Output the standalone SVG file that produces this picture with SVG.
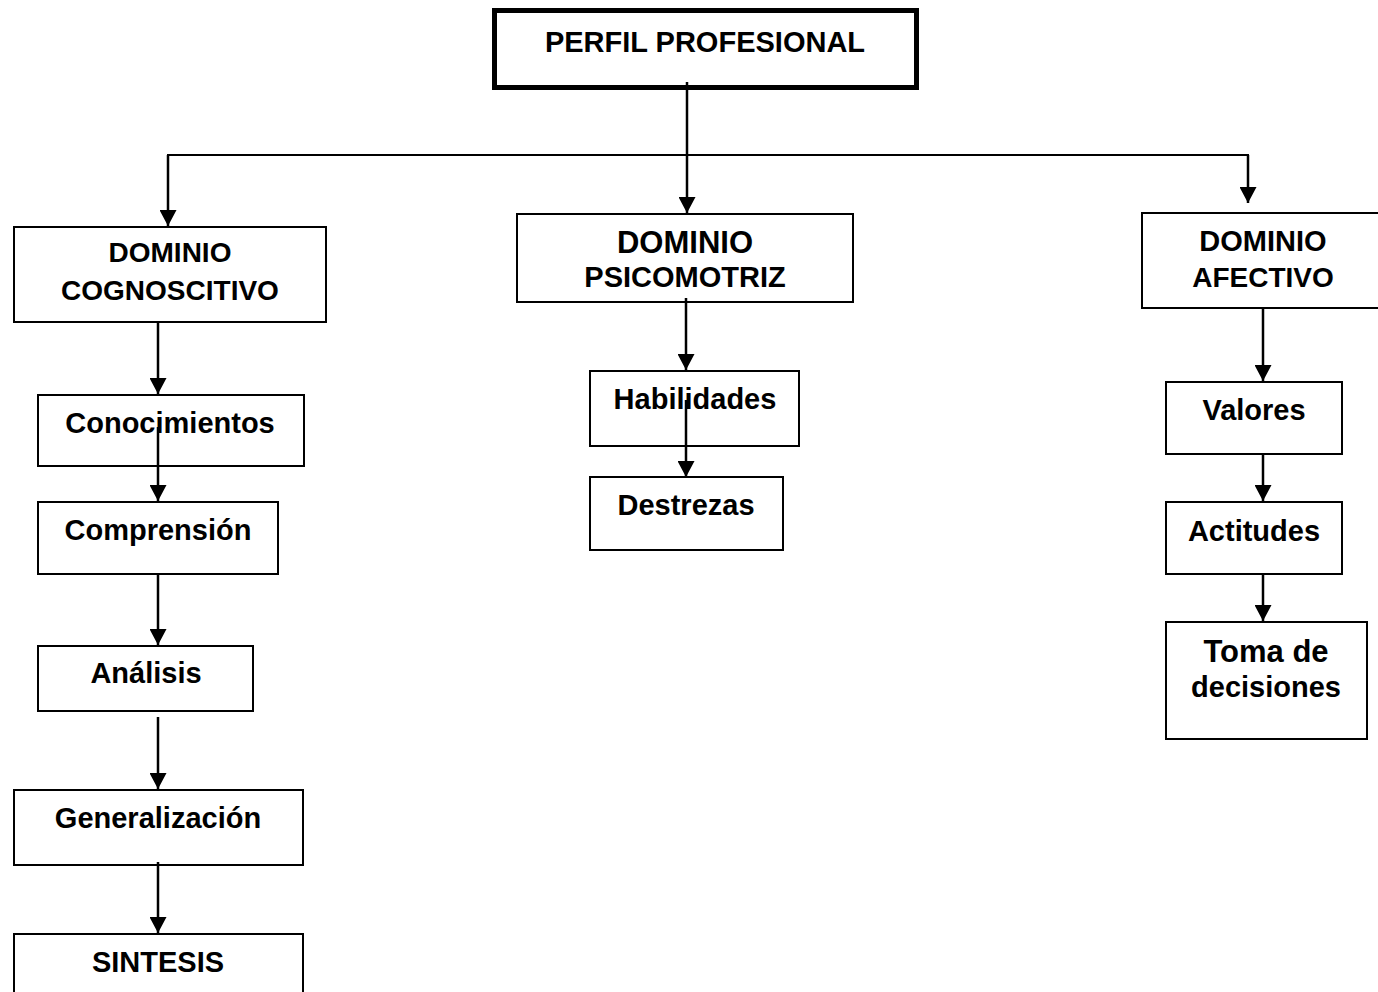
<svg xmlns="http://www.w3.org/2000/svg" width="1378" height="992" viewBox="0 0 1378 992">
<style>
.box{fill:#fff;stroke:#000;stroke-width:2}
.main{fill:#fff;stroke:#000;stroke-width:5}
text{font-family:"Liberation Sans",Arial,sans-serif;font-weight:bold;fill:#000;text-anchor:middle}
.c{fill:none;stroke:#000;stroke-width:2.5}
.h{fill:none;stroke:#000;stroke-width:2}
.a{marker-end:url(#arr)}
</style>
<defs>
<marker id="arr" markerUnits="userSpaceOnUse" markerWidth="16" markerHeight="17" refX="16" refY="8.5" orient="auto"><path d="M0,0 L16,8.5 L0,17 z" fill="#000"/></marker>
</defs>
<g id="n-perfil"><rect class="main" x="494.5" y="10.5" width="422" height="77"/><text x="705" y="52" font-size="29">PERFIL PROFESIONAL</text></g>
<g id="n-cog"><rect class="box" x="14" y="227" width="312" height="95"/><text x="170" y="262" font-size="28">DOMINIO</text><text x="170" y="300" font-size="28">COGNOSCITIVO</text></g>
<g id="n-conoc"><rect class="box" x="38" y="395" width="266" height="71"/><text x="170" y="433" font-size="29">Conocimientos</text></g>
<g id="n-compr"><rect class="box" x="38" y="502" width="240" height="72"/><text x="158" y="540" font-size="29">Comprensión</text></g>
<g id="n-anal"><rect class="box" x="38" y="646" width="215" height="65"/><text x="146" y="683" font-size="29">Análisis</text></g>
<g id="n-gen"><rect class="box" x="14" y="790" width="289" height="75"/><text x="158" y="828" font-size="29">Generalización</text></g>
<g id="n-sint"><rect class="box" x="14" y="934" width="289" height="70"/><text x="158" y="972" font-size="29">SINTESIS</text></g>
<g id="n-psico"><rect class="box" x="517" y="214" width="336" height="88"/><text x="685" y="253" font-size="31">DOMINIO</text><text x="685" y="287" font-size="29">PSICOMOTRIZ</text></g>
<g id="n-habil"><rect class="box" x="590" y="371" width="209" height="75"/><text x="695" y="409" font-size="29">Habilidades</text></g>
<g id="n-destr"><rect class="box" x="590" y="477" width="193" height="73"/><text x="686" y="515" font-size="29">Destrezas</text></g>
<g id="n-afect"><rect class="box" x="1142" y="213" width="245" height="95"/><text x="1263" y="251" font-size="29">DOMINIO</text><text x="1263" y="287" font-size="28">AFECTIVO</text></g>
<g id="n-valores"><rect class="box" x="1166" y="382" width="176" height="72"/><text x="1254" y="420" font-size="29">Valores</text></g>
<g id="n-actit"><rect class="box" x="1166" y="502" width="176" height="72"/><text x="1254" y="541" font-size="29">Actitudes</text></g>
<g id="n-toma"><rect class="box" x="1166" y="622" width="201" height="117"/><text x="1266" y="662" font-size="31">Toma de</text><text x="1266" y="697" font-size="29">decisiones</text></g>
<g id="connectors">
<line class="c a" x1="687" y1="82" x2="687" y2="213"/>
<line class="h" x1="167" y1="155" x2="1249" y2="155"/>
<line class="c a" x1="168" y1="155" x2="168" y2="226"/>
<line class="c a" x1="1248" y1="155" x2="1248" y2="203"/>
<line class="c a" x1="158" y1="322" x2="158" y2="394"/>
<line class="c a" x1="158" y1="427" x2="158" y2="501"/>
<line class="c a" x1="158" y1="574" x2="158" y2="645"/>
<line class="c a" x1="158" y1="717" x2="158" y2="789"/>
<line class="c a" x1="158" y1="862" x2="158" y2="933"/>
<line class="c a" x1="686" y1="298" x2="686" y2="370"/>
<line class="c a" x1="686" y1="400" x2="686" y2="477"/>
<line class="c a" x1="1263" y1="308" x2="1263" y2="381"/>
<line class="c a" x1="1263" y1="454" x2="1263" y2="501"/>
<line class="c a" x1="1263" y1="574" x2="1263" y2="621"/>
</g>
</svg>
